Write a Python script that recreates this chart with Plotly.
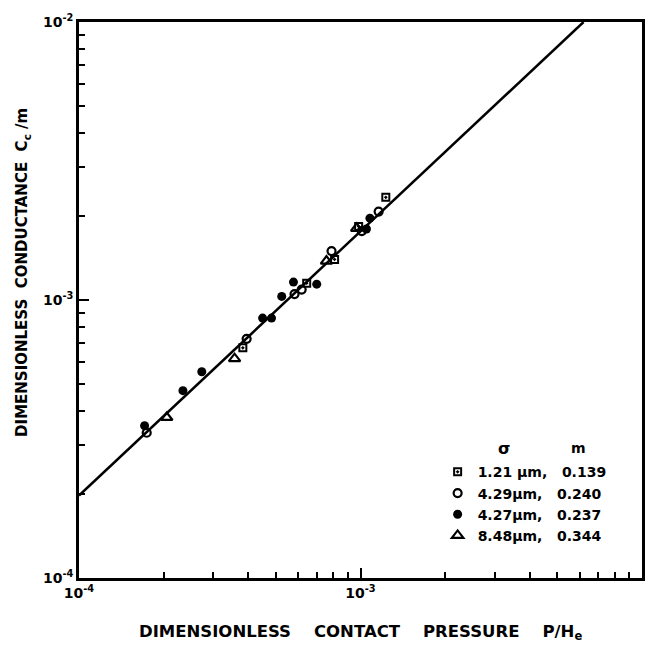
import plotly.graph_objects as go

# ---- data ----
sq_p = [3.82e-4, 6.44e-4, 8.09e-4, 9.85e-4, 1.23e-3]
sq_c = [6.73e-4, 1.15e-3, 1.40e-3, 1.84e-3, 2.34e-3]

oc_p = [1.74e-4, 3.94e-4, 5.83e-4, 6.18e-4, 7.89e-4, 1.01e-3, 1.16e-3]
oc_c = [3.33e-4, 7.25e-4, 1.05e-3, 1.09e-3, 1.50e-3, 1.77e-3, 2.08e-3]

fc_p = [1.71e-4, 2.34e-4, 2.73e-4, 4.49e-4, 4.83e-4, 5.25e-4, 5.78e-4, 6.99e-4, 1.05e-3, 1.08e-3]
fc_c = [3.53e-4, 4.72e-4, 5.52e-4, 8.61e-4, 8.61e-4, 1.03e-3, 1.16e-3, 1.14e-3, 1.80e-3, 1.97e-3]

tr_p = [2.05e-4, 3.57e-4, 7.57e-4, 9.69e-4]
tr_c = [3.78e-4, 6.15e-4, 1.38e-3, 1.81e-3]

fit_p = [1.0e-4, 6.2e-3]
fit_c = [1.98e-4, 1.0e-2]

NB = "\u00a0"
series_names = ["1.21" + NB + "\u03bcm," + NB * 3 + "0.139",
                "4.29\u03bcm," + NB * 3 + "0.240",
                "4.27\u03bcm," + NB * 3 + "0.237",
                "8.48\u03bcm," + NB * 3 + "0.344"]

tick_vals = [1e-4, 1e-3, 1e-2]
tick_text = ["10<sup>-4</sup>", "10<sup>-3</sup>", "10<sup>-2</sup>"]
minor_vals = [2e-4, 3e-4, 4e-4, 5e-4, 6e-4, 7e-4, 8e-4, 9e-4,
              2e-3, 3e-3, 4e-3, 5e-3, 6e-3, 7e-3, 8e-3, 9e-3]

x_title = "DIMENSIONLESS" + NB * 4 + "CONTACT" + NB * 4 + "PRESSURE" + NB * 4 + "P/H<sub>e</sub>"
y_title = "DIMENSIONLESS" + NB * 2 + "CONDUCTANCE" + NB * 2 + "C<sub>c</sub>" + NB + "/m"

FONT = "DejaVu Sans"

fig = go.Figure()
fig.add_trace(go.Scatter(x=fit_p, y=fit_c, mode="lines", line=dict(color="black", width=2.5),
                         showlegend=False, hoverinfo="skip"))
fig.add_trace(go.Scatter(x=sq_p, y=sq_c, mode="markers", name=series_names[0],
                         marker=dict(symbol="square-open-dot", size=7, color="black",
                                     line=dict(width=2, color="black"))))
fig.add_trace(go.Scatter(x=oc_p, y=oc_c, mode="markers", name=series_names[1],
                         marker=dict(symbol="circle-open", size=8, color="black",
                                     line=dict(width=2.2, color="black"))))
fig.add_trace(go.Scatter(x=fc_p, y=fc_c, mode="markers", name=series_names[2],
                         marker=dict(symbol="circle", size=9, color="black")))
fig.add_trace(go.Scatter(x=tr_p, y=tr_c, mode="markers", name=series_names[3],
                         marker=dict(symbol="triangle-up-open", size=10, color="black",
                                     line=dict(width=2.2, color="black"))))

axis_common = dict(
    type="log", range=[-4, -2], showgrid=False, zeroline=False,
    showline=True, linecolor="black", linewidth=2.5, mirror=True,
    ticks="inside", ticklen=10, tickwidth=2, tickcolor="black",
    tickmode="array", tickvals=tick_vals, ticktext=tick_text,
    tickfont=dict(family=FONT, size=14, color="black", weight="bold"),
    minor=dict(ticks="inside", ticklen=6, tickwidth=1.8, tickcolor="black", showgrid=False,
               tickmode="array", tickvals=minor_vals),
)
fig.update_xaxes(**axis_common)
fig.update_yaxes(**axis_common)

fig.update_layout(
    width=657, height=647,
    margin=dict(l=79, r=14, t=20, b=69),
    plot_bgcolor="white", paper_bgcolor="white",
    font=dict(family=FONT, color="black"),
    legend=dict(x=0.637, y=0.219, xanchor="left", yanchor="top",
                bgcolor="rgba(0,0,0,0)", tracegroupgap=0, itemwidth=30,
                font=dict(family=FONT, size=14, color="black", weight="bold")),
    annotations=[
        dict(text=x_title, xref="paper", yref="paper", x=0.5, y=-0.075,
             xanchor="center", yanchor="top", showarrow=False,
             font=dict(family=FONT, size=16.5, color="black", weight="bold")),
        dict(text=y_title, xref="paper", yref="paper", x=-0.1, y=0.55,
             xanchor="center", yanchor="middle", textangle=-90, showarrow=False,
             font=dict(family=FONT, size=15, color="black", weight="bold")),
        dict(text="\u03c3", xref="paper", yref="paper", x=0.755, y=0.233,
             xanchor="center", yanchor="middle", showarrow=False,
             font=dict(family=FONT, size=16, color="black", weight="bold")),
        dict(text="m", xref="paper", yref="paper", x=0.888, y=0.233,
             xanchor="center", yanchor="middle", showarrow=False,
             font=dict(family=FONT, size=14, color="black", weight="bold")),
    ],
)

fig.write_html("out.html")
